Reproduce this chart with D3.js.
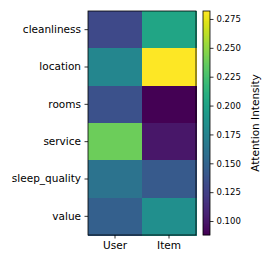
<!DOCTYPE html>
<html>
<head>
<meta charset="utf-8">
<script src="https://cdn.jsdelivr.net/npm/d3@7"></script>
<style>
  body { margin: 0; background: #fff; }
  text { font-family: "DejaVu Sans", sans-serif; fill: #000; }
</style>
</head>
<body>
<div id="main"></div>
<script>
// aspects (rows) and sources (columns)
const aspects = ["cleanliness", "location", "rooms", "service", "sleep_quality", "value"];
const sources = ["User", "Item"];
const userValues = [0.131, 0.177, 0.136, 0.238, 0.162, 0.147];
const itemValues = [0.202, 0.2819, 0.0879, 0.100, 0.142, 0.184];
const colorTicks = [0.100, 0.125, 0.150, 0.175, 0.200, 0.225, 0.250, 0.275];
const colorMin = 0.0879, colorMax = 0.2819;

const ctx = {
    WIDTH: 263,
    HEIGHT: 253,
};

function createViz() {
    const svg = d3.select("#main").append("svg")
        .attr("width", ctx.WIDTH)
        .attr("height", ctx.HEIGHT);
    svg.append("rect").attr("width", ctx.WIDTH).attr("height", ctx.HEIGHT).attr("fill", "#fff");

    // heatmap area
    const left = 88, right = 196, top = 11, bottom = 235;

    const x = d3.scaleBand().domain(sources).range([left, right]);
    const y = d3.scaleBand().domain(aspects).range([top, bottom]);
    const color = d3.scaleSequential(d3.interpolateViridis).domain([colorMin, colorMax]);

    const cells = [];
    aspects.forEach((a, i) => {
        cells.push({ aspect: a, source: "User", value: userValues[i] });
        cells.push({ aspect: a, source: "Item", value: itemValues[i] });
    });

    svg.append("g").selectAll("rect")
        .data(cells)
        .enter()
        .append("rect")
        .attr("x", d => x(d.source))
        .attr("y", d => y(d.aspect))
        .attr("width", x.bandwidth() + 0.5)
        .attr("height", y.bandwidth() + 0.5)
        .attr("fill", d => color(d.value))
        .attr("shape-rendering", "crispEdges");

    svg.append("rect")
        .attr("x", left).attr("y", top)
        .attr("width", right - left).attr("height", bottom - top)
        .attr("fill", "none").attr("stroke", "#000").attr("stroke-width", 0.8);

    const yAxis = svg.append("g")
        .attr("transform", `translate(${left},0)`)
        .call(d3.axisLeft(y).tickSize(3.5).tickPadding(3.5));
    const xAxis = svg.append("g")
        .attr("transform", `translate(0,${bottom})`)
        .call(d3.axisBottom(x).tickSize(3.5).tickPadding(3.5));
    [xAxis, yAxis].forEach(g => {
        g.select(".domain").remove();
        g.selectAll("line").attr("stroke", "#000").attr("stroke-width", 0.8);
        g.selectAll("text").attr("font-size", 10.5).attr("font-family", "DejaVu Sans");
    });

    // colorbar
    const cbLeft = 203, cbRight = 210;
    const cy = d3.scaleLinear().domain([colorMin, colorMax]).range([bottom, top]);
    const steps = d3.range(0, bottom - top);
    svg.append("g").selectAll("rect")
        .data(steps)
        .enter()
        .append("rect")
        .attr("x", cbLeft)
        .attr("y", d => top + d)
        .attr("width", cbRight - cbLeft)
        .attr("height", 1.2)
        .attr("fill", d => color(cy.invert(top + d + 0.5)));
    svg.append("rect")
        .attr("x", cbLeft).attr("y", top)
        .attr("width", cbRight - cbLeft).attr("height", bottom - top)
        .attr("fill", "none").attr("stroke", "#000").attr("stroke-width", 0.8);

    const cAxis = svg.append("g")
        .attr("transform", `translate(${cbRight},0)`)
        .call(d3.axisRight(cy).tickValues(colorTicks).tickFormat(d3.format(".3f")).tickSize(3.5).tickPadding(3));
    cAxis.select(".domain").remove();
    cAxis.selectAll("line").attr("stroke", "#000").attr("stroke-width", 0.8);
    cAxis.selectAll("text").attr("font-size", 8.5).attr("font-family", "DejaVu Sans");

    svg.append("text")
        .attr("transform", `translate(259,${(top + bottom) / 2}) rotate(-90)`)
        .attr("text-anchor", "middle")
        .attr("font-size", 10.5)
        .text("Attention Intensity");
}

createViz();
</script>
</body>
</html>
